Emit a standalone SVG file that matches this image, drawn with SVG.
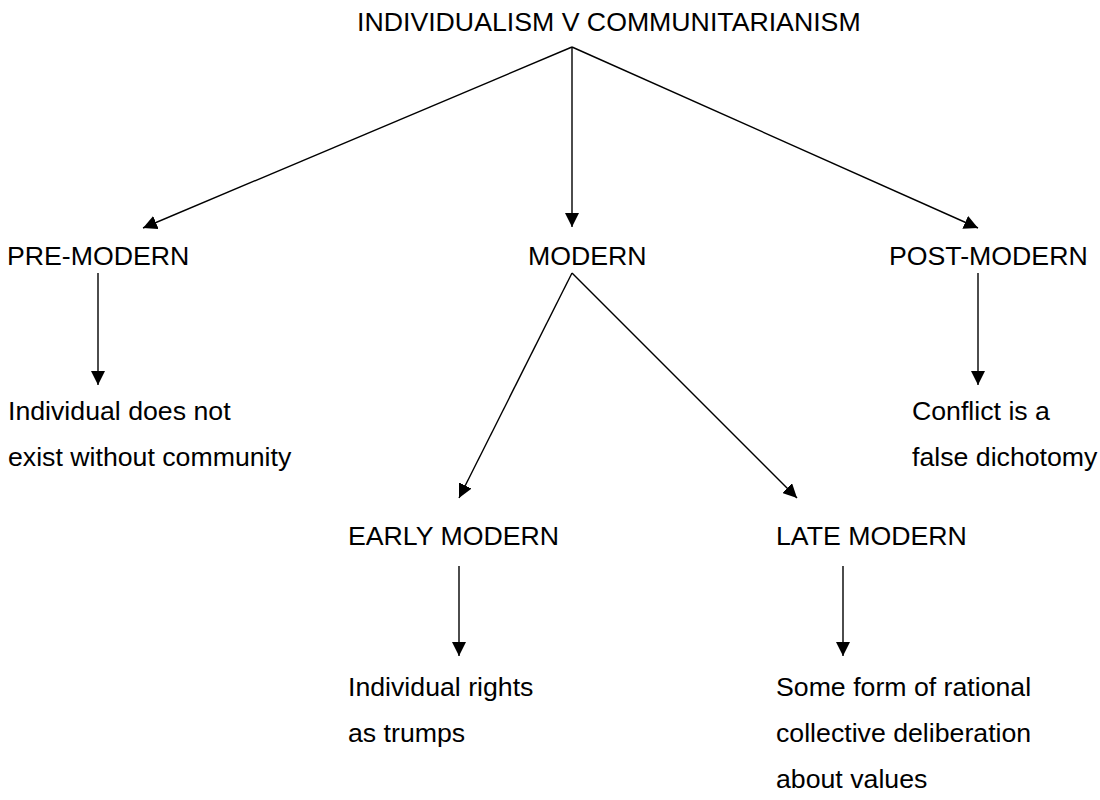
<svg xmlns="http://www.w3.org/2000/svg" width="1100" height="800" viewBox="0 0 1100 800">
<style>
text{font-family:"Liberation Sans",Arial,sans-serif;font-size:26.7px;fill:#000}
.c line{stroke:#000;stroke-width:1.4;marker-end:url(#ah)}
</style>
<defs>
<marker id="ah" markerUnits="userSpaceOnUse" markerWidth="14" markerHeight="14" refX="14" refY="7" orient="auto" viewBox="0 0 14 14">
<path d="M0,0 L14,7 L0,14 z" fill="#000"/>
</marker>
</defs>
<rect width="1100" height="800" fill="#fff"/>
<g class="c" id="connectors">
<line x1="572" y1="47" x2="143" y2="228"/>
<line x1="572" y1="47" x2="572" y2="227"/>
<line x1="572" y1="47" x2="978" y2="228"/>
<line x1="98" y1="273" x2="98" y2="385"/>
<line x1="978" y1="273" x2="978" y2="385"/>
<line x1="572" y1="273" x2="459" y2="498"/>
<line x1="572" y1="273" x2="797" y2="498"/>
<line x1="459" y1="566" x2="459" y2="656"/>
<line x1="843" y1="566" x2="843" y2="656"/>
</g>
<g id="title"><text x="357" y="31">INDIVIDUALISM V COMMUNITARIANISM</text></g>
<g id="premodern"><text x="7" y="265">PRE-MODERN</text></g>
<g id="modern"><text x="528" y="265">MODERN</text></g>
<g id="postmodern"><text x="889" y="265">POST-MODERN</text></g>
<g id="premodern-desc"><text x="8" y="420">Individual does not</text><text x="8" y="466">exist without community</text></g>
<g id="postmodern-desc"><text x="912" y="420">Conflict is a</text><text x="912" y="466">false dichotomy</text></g>
<g id="earlymodern"><text x="348" y="545">EARLY MODERN</text></g>
<g id="latemodern"><text x="776" y="545">LATE MODERN</text></g>
<g id="earlymodern-desc"><text x="348" y="696">Individual rights</text><text x="348" y="742">as trumps</text></g>
<g id="latemodern-desc"><text x="776" y="696">Some form of rational</text><text x="776" y="742">collective deliberation</text><text x="776" y="788">about values</text></g>
</svg>
